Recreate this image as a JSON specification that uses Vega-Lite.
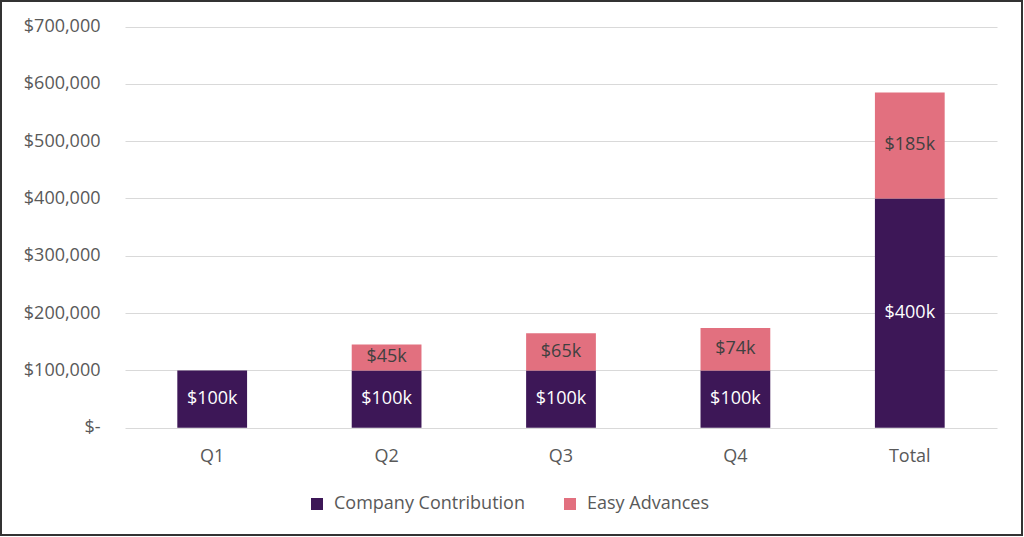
{
  "$schema": "https://vega.github.io/schema/vega-lite/v6.json",
  "autosize": {"type": "none"},
  "padding": {"left": 1, "top": 1, "right": 2, "bottom": 2},
  "width": 1021,
  "height": 534,
  "background": "white",
  "config": {
    "font": "Open Sans",
    "view": {"stroke": "#333333", "strokeWidth": 2},
    "axis": {"labelFont": "Open Sans", "labelFontSize": 18, "labelColor": "#595959", "ticks": false, "tickSize": 0, "domain": false, "labelOverlap": false},
    "legend": {"labelFont": "Open Sans"}
  },
  "data": {
    "values": [
      {"quarter": "Q1", "series": "Company Contribution", "value": 100000},
      {"quarter": "Q2", "series": "Company Contribution", "value": 100000},
      {"quarter": "Q2", "series": "Easy Advances", "value": 45000},
      {"quarter": "Q3", "series": "Company Contribution", "value": 100000},
      {"quarter": "Q3", "series": "Easy Advances", "value": 65000},
      {"quarter": "Q4", "series": "Company Contribution", "value": 100000},
      {"quarter": "Q4", "series": "Easy Advances", "value": 74000},
      {"quarter": "Total", "series": "Company Contribution", "value": 400000},
      {"quarter": "Total", "series": "Easy Advances", "value": 185000}
    ]
  },
  "layer": [
    {
      "mark": {"type": "bar"},
      "encoding": {
        "x": {
          "field": "quarter", "type": "nominal", "sort": ["Q1", "Q2", "Q3", "Q4", "Total"],
          "scale": {"range": [124, 996], "paddingInner": 0.6, "paddingOuter": 0.3},
          "axis": {"title": null, "offset": -107, "labelPadding": 19, "labelAngle": 0, "grid": false}
        },
        "y": {
          "field": "value", "type": "quantitative", "stack": "zero",
          "scale": {"domain": [0, 700000], "range": [426.7, 25.5], "nice": false},
          "axis": {
            "title": null, "offset": -124, "labelPadding": 25, "labelOverlap": false,
            "values": [0, 100000, 200000, 300000, 400000, 500000, 600000, 700000],
            "grid": true, "gridColor": "#D9D9D9", "gridWidth": 1,
            "labelExpr": "datum.value === 0 ? '$-' : format(datum.value, '$,.0f')"
          }
        },
        "color": {
          "field": "series", "type": "nominal",
          "scale": {"domain": ["Company Contribution", "Easy Advances"], "range": ["#3D1757", "#E2707F"]},
          "legend": {
            "orient": "none", "legendX": 307, "legendY": 494, "direction": "horizontal", "title": null,
            "symbolType": "square", "symbolSize": 144, "symbolStrokeWidth": 0, "labelFontSize": 18,
            "labelColor": "#595959", "labelOffset": 8, "columnPadding": 36, "padding": 0, "labelLimit": 400
          }
        },
        "order": {"field": "series", "sort": "ascending"}
      }
    },
    {
      "transform": [
        {"stack": "value", "groupby": ["quarter"], "sort": [{"field": "series", "order": "ascending"}], "as": ["v0", "v1"]},
        {"fold": ["v0", "v1"], "as": ["k", "pos"]},
        {"aggregate": [{"op": "mean", "field": "pos", "as": "mid"}], "groupby": ["quarter", "series", "value"]}
      ],
      "mark": {"type": "text", "fontSize": 18, "font": "Open Sans", "baseline": "middle", "align": "center"},
      "encoding": {
        "x": {
          "field": "quarter", "type": "nominal", "sort": ["Q1", "Q2", "Q3", "Q4", "Total"],
          "axis": {"title": null, "offset": -107, "labelPadding": 19, "labelAngle": 0, "grid": false}
        },
        "y": {
          "field": "mid", "type": "quantitative",
          "scale": {"domain": [0, 700000], "range": [426.7, 25.5], "nice": false},
          "axis": {
            "title": null, "offset": -124, "labelPadding": 25, "labelOverlap": false,
            "values": [0, 100000, 200000, 300000, 400000, 500000, 600000, 700000],
            "grid": true, "gridColor": "#D9D9D9", "gridWidth": 1,
            "labelExpr": "datum.value === 0 ? '$-' : format(datum.value, '$,.0f')"
          }
        },
        "text": {"field": "value", "type": "quantitative", "format": "$.3~s"},
        "color": {"condition": {"test": "datum.series === 'Company Contribution'", "value": "#FFFFFF"}, "value": "#404040"}
      }
    }
  ]
}
